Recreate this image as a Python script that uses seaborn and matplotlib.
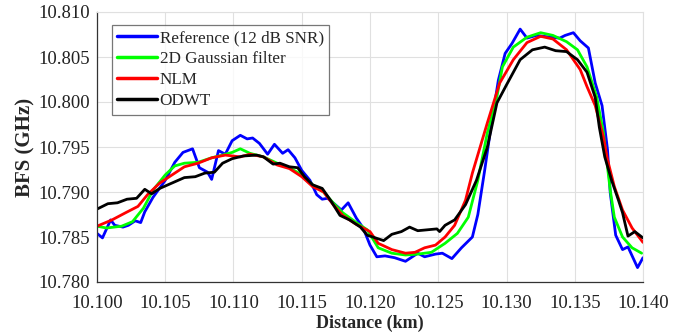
import matplotlib
matplotlib.use("Agg")
import matplotlib.pyplot as plt
import seaborn as sns
import pandas as pd
from matplotlib.ticker import FormatStrFormatter

# ---- data ----
ref_x = [10.1000, 10.1004, 10.1010, 10.1013, 10.1019, 10.1023, 10.1028, 10.1032, 10.1035, 10.1041,
         10.1050, 10.1057, 10.1063, 10.1070, 10.1075, 10.1081, 10.1084, 10.1089, 10.1094, 10.1099,
         10.1105, 10.1110, 10.1114, 10.1119, 10.1125, 10.1130, 10.1136, 10.1140, 10.1145, 10.1150,
         10.1156, 10.1161, 10.1165, 10.1169, 10.1173, 10.1179, 10.1184, 10.1190, 10.1195, 10.1200,
         10.1205, 10.1211, 10.1218, 10.1226, 10.1231, 10.1235, 10.1240, 10.1248, 10.1253, 10.1260,
         10.1267, 10.1275, 10.1279, 10.1284, 10.1288, 10.1294, 10.1299, 10.1304, 10.1310, 10.1315,
         10.1322, 10.1332, 10.1339, 10.1343, 10.1349, 10.1354, 10.1360, 10.1365, 10.1370, 10.1374,
         10.1376, 10.1380, 10.1385, 10.1389, 10.1396, 10.1400]
ref_y = [10.7854, 10.7849, 10.7869, 10.7863, 10.7861, 10.7863, 10.7868, 10.7866, 10.7878, 10.7894,
         10.7913, 10.7933, 10.7944, 10.7948, 10.7927, 10.7922, 10.7914, 10.7946, 10.7942, 10.7957,
         10.7963, 10.7959, 10.7960, 10.7954, 10.7942, 10.7953, 10.7943, 10.7947, 10.7938, 10.7924,
         10.7913, 10.7897, 10.7892, 10.7893, 10.7888, 10.7880, 10.7888, 10.7871, 10.7860, 10.7841,
         10.7828, 10.7829, 10.7827, 10.7823, 10.7828, 10.7832, 10.7828, 10.7831, 10.7832, 10.7826,
         10.7838, 10.7850, 10.7875, 10.7924, 10.7966, 10.8024, 10.8054, 10.8065, 10.8081, 10.8071,
         10.8074, 10.8072, 10.8071, 10.8074, 10.8077, 10.8068, 10.8060, 10.8021, 10.7996, 10.7947,
         10.7899, 10.7852, 10.7836, 10.7839, 10.7816, 10.7827]

gauss_x = [10.1000, 10.1007, 10.1018, 10.1026, 10.1034, 10.1041, 10.1050, 10.1057, 10.1064, 10.1074,
           10.1084, 10.1092, 10.1099, 10.1105, 10.1112, 10.1122, 10.1132, 10.1141, 10.1150, 10.1158,
           10.1166, 10.1173, 10.1180, 10.1190, 10.1198, 10.1206, 10.1216, 10.1226, 10.1235, 10.1245,
           10.1255, 10.1264, 10.1272, 10.1279, 10.1286, 10.1293, 10.1297, 10.1305, 10.1315, 10.1325,
           10.1334, 10.1344, 10.1352, 10.1359, 10.1366, 10.1371, 10.1376, 10.1379, 10.1385, 10.1392,
           10.1399]
gauss_y = [10.7862, 10.7860, 10.7862, 10.7867, 10.7882, 10.7902, 10.7919, 10.7929, 10.7932, 10.7933,
           10.7938, 10.7941, 10.7944, 10.7948, 10.7943, 10.7939, 10.7932, 10.7927, 10.7919, 10.7908,
           10.7900, 10.7888, 10.7877, 10.7866, 10.7858, 10.7838, 10.7832, 10.7830, 10.7831, 10.7833,
           10.7843, 10.7854, 10.7872, 10.7913, 10.7966, 10.8006, 10.8039, 10.8061, 10.8072, 10.8077,
           10.8074, 10.8067, 10.8058, 10.8039, 10.8006, 10.7966, 10.7902, 10.7872, 10.7850, 10.7838,
           10.7832]

nlm_x = [10.1000, 10.1011, 10.1021, 10.1030, 10.1037, 10.1046, 10.1055, 10.1064, 10.1074, 10.1084,
         10.1094, 10.1105, 10.1112, 10.1122, 10.1132, 10.1141, 10.1150, 10.1158, 10.1166, 10.1173,
         10.1180, 10.1190, 10.1200, 10.1206, 10.1216, 10.1226, 10.1233, 10.1240, 10.1248, 10.1255,
         10.1262, 10.1270, 10.1275, 10.1286, 10.1295, 10.1305, 10.1315, 10.1325, 10.1334, 10.1344,
         10.1354, 10.1359, 10.1365, 10.1371, 10.1374, 10.1379, 10.1385, 10.1392, 10.1400]
nlm_y = [10.7862, 10.7869, 10.7877, 10.7884, 10.7897, 10.7910, 10.7919, 10.7928, 10.7932, 10.7938,
         10.7941, 10.7939, 10.7942, 10.7939, 10.7930, 10.7926, 10.7917, 10.7906, 10.7900, 10.7886,
         10.7874, 10.7864, 10.7856, 10.7843, 10.7836, 10.7832, 10.7833, 10.7838, 10.7841, 10.7850,
         10.7863, 10.7891, 10.7921, 10.7977, 10.8021, 10.8047, 10.8066, 10.8073, 10.8070, 10.8058,
         10.8036, 10.8017, 10.7996, 10.7961, 10.7936, 10.7906, 10.7880, 10.7860, 10.7844]

odwt_x = [10.1000, 10.1008, 10.1015, 10.1022, 10.1029, 10.1035, 10.1040, 10.1046, 10.1055, 10.1064,
          10.1072, 10.1079, 10.1086, 10.1092, 10.1099, 10.1107, 10.1117, 10.1122, 10.1129, 10.1134,
          10.1141, 10.1147, 10.1152, 10.1158, 10.1165, 10.1171, 10.1178, 10.1185, 10.1193, 10.1198,
          10.1210, 10.1216, 10.1223, 10.1229, 10.1235, 10.1242, 10.1249, 10.1251, 10.1255, 10.1262,
          10.1270, 10.1278, 10.1286, 10.1293, 10.1300, 10.1310, 10.1319, 10.1328, 10.1336, 10.1344,
          10.1352, 10.1359, 10.1365, 10.1368, 10.1372, 10.1377, 10.1382, 10.1385, 10.1389, 10.1394,
          10.1400]
odwt_y = [10.7881, 10.7887, 10.7888, 10.7892, 10.7893, 10.7903, 10.7898, 10.7904, 10.7910, 10.7916,
          10.7917, 10.7921, 10.7922, 10.7932, 10.7937, 10.7940, 10.7941, 10.7939, 10.7931, 10.7932,
          10.7928, 10.7927, 10.7917, 10.7908, 10.7904, 10.7891, 10.7874, 10.7869, 10.7861, 10.7852,
          10.7846, 10.7853, 10.7856, 10.7861, 10.7857, 10.7858, 10.7859, 10.7856, 10.7863, 10.7869,
          10.7886, 10.7913, 10.7950, 10.7999, 10.8019, 10.8047, 10.8058, 10.8061, 10.8057, 10.8056,
          10.8047, 10.8033, 10.8005, 10.7972, 10.7939, 10.7913, 10.7891, 10.7877, 10.7851, 10.7856,
          10.7849]

labels = ["Reference (12 dB SNR)", "2D Gaussian filter", "NLM", "ODWT"]
colors = ["#0000ff", "#00ff00", "#ff0000", "#000000"]
x_ticks = [10.100, 10.105, 10.110, 10.115, 10.120, 10.125, 10.130, 10.135, 10.140]
y_ticks = [10.780, 10.785, 10.790, 10.795, 10.800, 10.805, 10.810]

frames = []
for lab, xs, ys in zip(labels, [ref_x, gauss_x, nlm_x, odwt_x], [ref_y, gauss_y, nlm_y, odwt_y]):
    frames.append(pd.DataFrame({"Distance": xs, "BFS": ys, "Method": lab}))
df = pd.concat(frames, ignore_index=True)

sns.set_theme(style="white")
plt.rcParams["font.family"] = ["Liberation Serif", "DejaVu Serif"]

fig = plt.figure(figsize=(6.84, 3.36), dpi=100)
ax = fig.add_axes([97 / 684, 1 - 282 / 336, (643 - 97) / 684, (282 - 12) / 336])

sns.lineplot(data=df, x="Distance", y="BFS", hue="Method", hue_order=labels,
             palette=dict(zip(labels, colors)), estimator=None, sort=False,
             linewidth=2.0, ax=ax)

ax.set_xlim(10.100, 10.140)
ax.set_ylim(10.780, 10.810)
ax.set_xticks(x_ticks)
ax.set_yticks(y_ticks)
ax.xaxis.set_major_formatter(FormatStrFormatter("%.3f"))
ax.yaxis.set_major_formatter(FormatStrFormatter("%.3f"))
ax.grid(True, color="#e0e0e0", linewidth=0.8)
ax.set_axisbelow(True)
for s in ["top", "right"]:
    ax.spines[s].set_color("#e0e0e0")
    ax.spines[s].set_linewidth(0.8)
for s in ["left", "bottom"]:
    ax.spines[s].set_color("#333333")
    ax.spines[s].set_linewidth(0.9)
ax.tick_params(axis="both", direction="in", length=4, width=0.8, color="#333333",
               labelsize=13.5, labelcolor="#222222", top=False, right=False, pad=5)
ax.tick_params(axis="x", pad=9)
ax.set_xlabel("Distance (km)", fontsize=13, fontweight="bold", labelpad=2)
ax.set_ylabel("BFS (GHz)", fontsize=15, fontweight="bold", labelpad=2)

leg = ax.legend(loc="upper left", bbox_to_anchor=(0.027, 0.952), borderaxespad=0,
                fontsize=12.3, frameon=True, fancybox=False, handlelength=2.35,
                handletextpad=0.15, borderpad=0.3, labelspacing=0.3, title=None)
leg.get_frame().set_edgecolor("#555555")
leg.get_frame().set_linewidth(0.9)
for h in leg.get_lines():
    h.set_linewidth(2.5)

fig.savefig("out.png", dpi=100)
